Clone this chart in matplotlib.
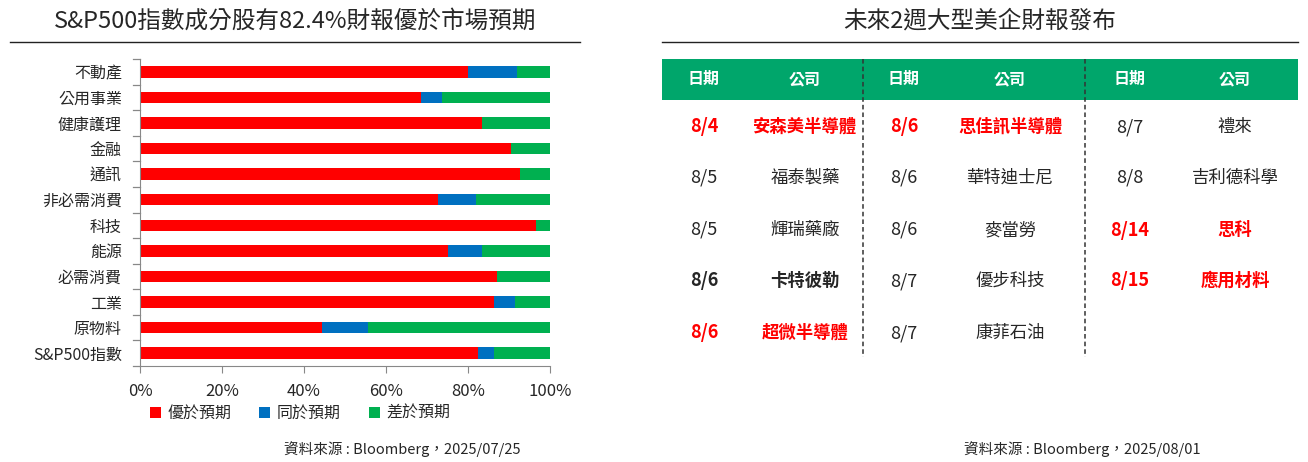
import numpy as np
import matplotlib
matplotlib.use("Agg")
import matplotlib.pyplot as plt

plt.rcParams['font.family'] = ['Noto Sans CJK TC', 'DejaVu Sans']

# ---- left chart data (percent of companies) ----
sectors = ["不動產", "公用事業", "健康護理", "金融", "通訊", "非必需消費", "科技",
           "能源", "必需消費", "工業", "原物料", "S&P500指數"]
beat = [80.1, 68.6, 83.4, 90.6, 92.8, 72.6, 96.6, 75.1, 87.0, 86.4, 44.5, 82.4]
inline = [11.8, 5.1, 0.0, 0.0, 0.0, 9.4, 0.0, 8.3, 0.0, 5.0, 11.2, 4.0]
miss = [8.1, 26.3, 16.6, 9.4, 7.2, 18.0, 3.4, 16.6, 13.0, 8.6, 44.3, 13.6]
series_names = ["優於預期", "同於預期", "差於預期"]
xticks = [0, 20, 40, 60, 80, 100]

# ---- right table data ----
header = ["日期", "公司"]
col_dates = [["8/4", "8/5", "8/5", "8/6", "8/6"],
             ["8/6", "8/6", "8/6", "8/7", "8/7"],
             ["8/7", "8/8", "8/14", "8/15"]]
col_names = [["安森美半導體", "福泰製藥", "輝瑞藥廠", "卡特彼勒", "超微半導體"],
             ["思佳訊半導體", "華特迪士尼", "麥當勞", "優步科技", "康菲石油"],
             ["禮來", "吉利德科學", "思科", "應用材料"]]
# 0 = normal, 1 = bold black, 2 = bold red
col_style = [[2, 0, 0, 1, 2],
             [2, 0, 0, 0, 0],
             [0, 0, 2, 2]]

RED = "#FF0000"
BLUE = "#0070C0"
GREEN = "#00B050"
HEAD = "#00A66B"
TXT = "#262626"

W, H = 1308, 462
fig = plt.figure(figsize=(W / 100, H / 100), dpi=100)

# overlay axes in pixel coordinates for titles, lines, table
ov = fig.add_axes([0, 0, 1, 1])
ov.set_xlim(0, W)
ov.set_ylim(H, 0)
ov.axis("off")

# ---- left: stacked bar chart ----
L, R, T, B = 140, 550, 59, 366
ax = fig.add_axes([L / W, 1 - B / H, (R - L) / W, (B - T) / H])
y = np.arange(len(sectors))
beat_a = np.array(beat)
inline_a = np.array(inline)
miss_a = np.array(miss)
ax.barh(y, beat_a, height=0.45, color=RED, label=series_names[0])
ax.barh(y, inline_a, left=beat_a, height=0.45, color=BLUE, label=series_names[1])
ax.barh(y, miss_a, left=beat_a + inline_a, height=0.45, color=GREEN, label=series_names[2])
ax.set_xlim(0, 100)
ax.set_ylim(len(sectors) - 0.5, -0.5)
ax.set_xticks(xticks)
ax.set_xticklabels([f"{v}%" for v in xticks], fontsize=12, color=TXT)
ax.set_yticks(y)
ax.set_yticklabels(sectors, fontsize=11.5, color=TXT)
ax.tick_params(axis="y", length=0, pad=13)
ax.tick_params(axis="x", length=5, color="#888888", pad=7)
# boundary ticks on y axis like Excel
for b in np.arange(-0.5, len(sectors), 1.0):
    ax.plot([-1.6, 0], [b, b], color="#888888", lw=0.9, clip_on=False)
for s in ["top", "right"]:
    ax.spines[s].set_visible(False)
ax.spines["left"].set_color("#888888")
ax.spines["bottom"].set_color("#888888")
leg = ax.legend(loc="upper center", bbox_to_anchor=(0.39, -0.08), ncol=3, frameon=False,
                fontsize=11.5, handlelength=0.7, handleheight=0.7, handletextpad=0.4,
                columnspacing=1.75)
for t in leg.get_texts():
    t.set_color(TXT)

ov.text(295, 21, "S&P500指數成分股有82.4%財報優於市場預期", fontsize=17, fontweight="medium",
        color=TXT, ha="center", va="center")
ov.plot([10, 580], [42, 42], color="#222222", lw=1)
ov.text(402, 449, "資料來源 : Bloomberg，2025/07/25", fontsize=10.5, color=TXT,
        ha="center", va="center")

# ---- right: earnings calendar table ----
ov.text(980, 21, "未來2週大型美企財報發布", fontsize=17, fontweight="medium",
        color=TXT, ha="center", va="center")
ov.plot([662, 1298], [42, 42], color="#222222", lw=1)
ov.add_patch(plt.Rectangle((662, 59), 1298 - 662, 41, color=HEAD, lw=0))

date_x = [704, 904, 1130]
name_x = [805, 1010, 1235]
row_y = [127, 178, 230, 281, 333]
for c in range(3):
    ov.text(date_x[c], 79, header[0], fontsize=11.5, fontweight="bold", color="white",
            ha="center", va="center")
    ov.text(name_x[c], 79, header[1], fontsize=11.5, fontweight="bold", color="white",
            ha="center", va="center")
    for r, (d, n) in enumerate(zip(col_dates[c], col_names[c])):
        st = col_style[c][r]
        col = RED if st == 2 else TXT
        fw = "bold" if st else "normal"
        ov.text(date_x[c], row_y[r], d, fontsize=13, fontweight=fw, color=col,
                ha="center", va="center")
        ov.text(name_x[c], row_y[r], n, fontsize=12.5, fontweight=fw, color=col,
                ha="center", va="center")

for xd in [863, 1085]:
    ov.plot([xd, xd], [59, 357], color="#333333", lw=1.1, ls=(0, (3, 2)))

ov.text(1082, 449, "資料來源 : Bloomberg，2025/08/01", fontsize=10.5, color=TXT,
        ha="center", va="center")

fig.savefig("out.png", dpi=100)
